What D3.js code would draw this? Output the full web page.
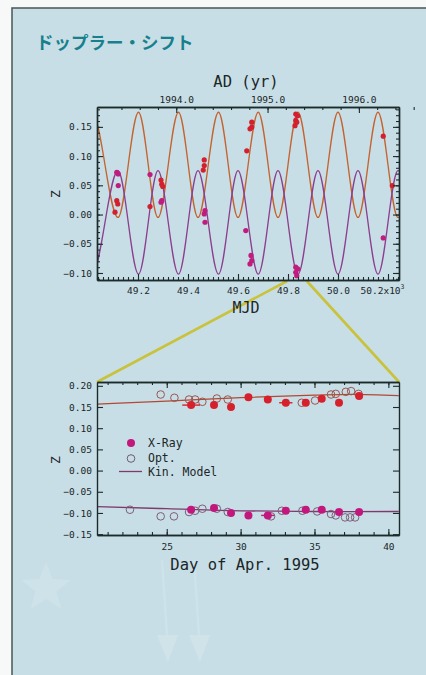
<!DOCTYPE html>
<html>
<head>
<meta charset="UTF-8">
<style>
  body { margin: 0; background: #fff; }
  svg text { font-family: "DejaVu Sans Mono", monospace; fill: #1b2626; }
  .axis path, .axis line { stroke: #1b2a2a; }
  .axis path { stroke-width: 1.4; }
  .axis line { stroke-width: 1.1; }
</style>
<script src="https://cdn.jsdelivr.net/npm/d3@7"></script>
</head>
<body>
<script>
// ---- top panel: model extrema (MJD, z) ----
var modelMJD   = [48936, 49016, 49120, 49202, 49280, 49362, 49440, 49522, 49600, 49681, 49760, 49840, 49920, 50000, 50080, 50160, 50240, 50400];
var modelRedZ  = [-0.005, 0.175, -0.005, 0.175, -0.005, 0.175, -0.005, 0.175, -0.005, 0.175, -0.005, 0.175, -0.005, 0.175, -0.005, 0.175, -0.005, 0.175];
var modelBlueZ = [0.075, -0.102, 0.075, -0.102, 0.075, -0.102, 0.075, -0.102, 0.075, -0.102, 0.075, -0.102, 0.075, -0.102, 0.075, -0.102, 0.075, -0.102];

var topRedMJD = [49115, 49119, 49108, 49248, 49292, 49295, 49299, 49465, 49465, 49461, 49655, 49655, 49648, 49635, 49831, 49831, 49828, 49839, 49835, 50181, 50217];
var topRedZ   = [0.0238, 0.018, 0.004, 0.0136, 0.059, 0.052, 0.048, 0.0935, 0.0837, 0.076, 0.158, 0.1495, 0.1466, 0.109, 0.172, 0.161, 0.152, 0.169, 0.158, 0.134, 0.0495];
var topMagMJD = [49115, 49121, 49121, 49248, 49295, 49292, 49468, 49465, 49468, 49631, 49652, 49655, 49648, 49831, 49831, 49839, 49835, 50181];
var topMagZ   = [0.0724, 0.0695, 0.0495, 0.0683, 0.0238, 0.021, 0.0067, 0.001, -0.0132, -0.0275, -0.070, -0.079, -0.0845, -0.090, -0.0988, -0.093, -0.1046, -0.040];

var mjdTicks  = [49200, 49400, 49600, 49800, 50000, 50200];
var yearTicks = [1994, 1995, 1996];
var topZTicks = [-0.10, -0.05, 0.00, 0.05, 0.10, 0.15];

// ---- bottom panel: April 1995 campaign ----
var xrayDays  = [26.65, 28.2, 29.35, 30.53, 31.84, 33.06, 34.41, 35.49, 36.66, 38.02];
var xrayRedZ  = [0.1545, 0.1545, 0.1498, 0.1733, 0.1677, 0.160, 0.160, 0.1693, 0.160, 0.1757];
var xrayMagZ  = [-0.0924, -0.0884, -0.100, -0.1058, -0.1058, -0.0948, -0.0924, -0.0924, -0.0978, -0.0978];
var xrayRedErr = [0.6, 0, 0, 0, 0, 0.45, 0, 0, 0, 0];
var xrayMagErr = [0, 0, 0, 0, 0.45, 0, 0, 0, 0, 0];

var optRedDays = [24.59, 25.52, 26.51, 26.92, 27.41, 28.39, 29.13, 34.14, 35.04, 36.12, 36.44, 37.12, 37.48, 37.98];
var optRedZ    = [0.1795, 0.1717, 0.1677, 0.1677, 0.1623, 0.170, 0.1677, 0.160, 0.1653, 0.1795, 0.181, 0.1858, 0.1875, 0.181];
var optMagDays = [22.51, 24.59, 25.49, 26.51, 26.92, 27.41, 28.39, 29.13, 32.06, 32.79, 34.18, 35.18, 36.12, 36.44, 37.07, 37.41, 37.75];
var optMagZ    = [-0.0924, -0.108, -0.108, -0.0978, -0.0948, -0.090, -0.090, -0.0978, -0.108, -0.0948, -0.0948, -0.0964, -0.1025, -0.1058, -0.1105, -0.1105, -0.1105];

var kinDays = [20.3, 25, 30, 35, 37.5, 40.7];
var kinRedZ = [0.157, 0.164, 0.172, 0.178, 0.180, 0.177];
var kinMagZ = [-0.085, -0.090, -0.095, -0.0965, -0.0968, -0.0965];

var dayTicks = [25, 30, 35, 40];
var botZTicks = [-0.15, -0.10, -0.05, 0.00, 0.05, 0.10, 0.15, 0.20];

var legendLabels = ["X-Ray", "Opt.", "Kin. Model"];

// ---------------------------------------------------------------
var W = 426, H = 675;
var svg = d3.select("body").append("svg").attr("width", W).attr("height", H);

// page / panel
svg.append("rect").attr("width", W).attr("height", H).attr("fill", "#f7f8f8");
svg.append("rect").attr("x", 12).attr("y", 8).attr("width", W - 12).attr("height", H - 8)
  .attr("fill", "#c8dee6");
svg.append("path").attr("d", "M12," + H + "V8H" + W).attr("fill", "none")
  .attr("stroke", "#4a5557").attr("stroke-width", 1.5);

// faint background decorations
var star = d3.range(10).map(function(i) {
  var r = i % 2 ? 11 : 26, a = -Math.PI / 2 + i * Math.PI / 5;
  return [46 + r * Math.cos(a), 588 + r * Math.sin(a)];
});
svg.append("polygon").attr("points", star.join(" ")).attr("fill", "#d0e4ea").attr("opacity", 0.7);
[168, 200].forEach(function(ax) {
  svg.append("line").attr("x1", ax - 6).attr("y1", 560).attr("x2", ax).attr("y2", 650)
    .attr("stroke", "#cde2e9").attr("stroke-width", 2.5);
  svg.append("path").attr("d", "M" + (ax - 11) + ",635L" + ax + ",662L" + (ax + 10) + ",635Z")
    .attr("fill", "#cfe3e9");
});

svg.append("text").attr("x", 36).attr("y", 49)
  .style("font-family", "'Noto Sans CJK JP', sans-serif").style("font-size", "17.5px")
  .style("font-weight", 700).style("fill", "#17808c")
  .text("ドップラー・シフト");

var tp = {l: 97, r: 399, t: 107, b: 280};
var bp = {l: 97, r: 399, t: 382, b: 535};

var xTop = d3.scaleLinear().domain([49036, 50244]).range([tp.l, tp.r]);
var yTop = d3.scaleLinear().domain([-0.112, 0.184]).range([tp.b, tp.t]);
function mjdToYear(m) { return 1994 + (m - 49353) / 365.25; }
var xYear = d3.scaleLinear().domain([mjdToYear(49036), mjdToYear(50244)]).range([tp.l, tp.r]);

var xBot = d3.scaleLinear().domain([20.28, 40.72]).range([bp.l, bp.r]);
var yBot = d3.scaleLinear().domain([-0.152, 0.209]).range([bp.b, bp.t]);

// zoom connector lines (from the April 1995 window in the top panel)
var apex = [xTop(49837.5) + 3, tp.b - 6];
[[bp.l, bp.t], [bp.r, bp.t]].forEach(function(c) {
  var f = (c[1] - (tp.b + 1)) / (c[1] - apex[1]);
  svg.append("line").attr("x1", c[0]).attr("y1", c[1])
    .attr("x2", c[0] + (apex[0] - c[0]) * f).attr("y2", tp.b + 1)
    .attr("stroke", "#c8c23c").attr("stroke-width", 2.6);
});

function axes(g, x, y, p, o) {
  var fs = o.fs;
  function ax(gen, tr) {
    var a = g.append("g").attr("class", "axis").attr("transform", tr).call(gen);
    a.selectAll("text").style("font-size", fs + "px");
    return a;
  }
  ax(d3.axisBottom(x).tickValues(o.xMinor).tickSize(-3).tickSizeOuter(0).tickFormat(""), "translate(0," + p.b + ")");
  var xb = ax(d3.axisBottom(x).tickValues(o.xMajor).tickSize(-6).tickSizeOuter(0).tickPadding(o.xPad).tickFormat(o.xFmt), "translate(0," + p.b + ")");
  if (o.topScale) {
    ax(d3.axisTop(o.topScale).tickValues(o.topMinor).tickSize(-3).tickSizeOuter(0).tickFormat(""), "translate(0," + p.t + ")");
    ax(d3.axisTop(o.topScale).tickValues(o.topMajor).tickSize(-6).tickSizeOuter(0).tickPadding(4).tickFormat(d3.format(".1f")), "translate(0," + p.t + ")");
  } else {
    ax(d3.axisTop(x).tickValues(o.xMinor).tickSize(-3).tickSizeOuter(0).tickFormat(""), "translate(0," + p.t + ")");
    ax(d3.axisTop(x).tickValues(o.xMajor).tickSize(-6).tickSizeOuter(0).tickFormat(""), "translate(0," + p.t + ")");
  }
  if (o.yMinor) {
    ax(d3.axisLeft(y).tickValues(o.yMinor).tickSize(-3).tickSizeOuter(0).tickFormat(""), "translate(" + p.l + ",0)");
    ax(d3.axisRight(y).tickValues(o.yMinor).tickSize(-3).tickSizeOuter(0).tickFormat(""), "translate(" + p.r + ",0)");
  }
  ax(d3.axisLeft(y).tickValues(o.yMajor).tickSize(-6).tickSizeOuter(0).tickPadding(5).tickFormat(d3.format(".2f")), "translate(" + p.l + ",0)");
  ax(d3.axisRight(y).tickValues(o.yMajor).tickSize(-6).tickSizeOuter(0).tickFormat(""), "translate(" + p.r + ",0)");
  return xb;
}

// ---------------- top panel ----------------
var gT = svg.append("g");
svg.append("clipPath").attr("id", "clipT").append("rect")
  .attr("x", tp.l).attr("y", tp.t).attr("width", tp.r - tp.l).attr("height", tp.b - tp.t);

var topModel = d3.line().x(function(d) { return xTop(d[0]); }).y(function(d) { return yTop(d[1]); })
  .curve(d3.curveMonotoneX);
gT.append("path").datum(d3.zip(modelMJD, modelRedZ)).attr("clip-path", "url(#clipT)")
  .attr("d", topModel).attr("fill", "none").attr("stroke", "#c4632e").attr("stroke-width", 1.3);
gT.append("path").datum(d3.zip(modelMJD, modelBlueZ)).attr("clip-path", "url(#clipT)")
  .attr("d", topModel).attr("fill", "none").attr("stroke", "#8b3f8e").attr("stroke-width", 1.3);

gT.selectAll(".pr").data(d3.zip(topRedMJD, topRedZ)).enter().append("circle")
  .attr("cx", function(d) { return xTop(d[0]); }).attr("cy", function(d) { return yTop(d[1]); })
  .attr("r", 2.6).attr("fill", "#d3202e");
gT.selectAll(".pm").data(d3.zip(topMagMJD, topMagZ)).enter().append("circle")
  .attr("cx", function(d) { return xTop(d[0]); }).attr("cy", function(d) { return yTop(d[1]); })
  .attr("r", 2.6).attr("fill", "#c01c7e");

var xbT = axes(gT, xTop, yTop, tp, {
  fs: 9.5, xPad: 7,
  xMajor: mjdTicks, xMinor: d3.range(49040, 50244, 20),
  xFmt: function(d) { return d3.format(".1f")(d / 1000); },
  topScale: xYear, topMajor: yearTicks, topMinor: d3.range(1993.4, 1996.7, 0.2),
  yMajor: topZTicks, yMinor: d3.range(-0.11, 0.185, 0.01)
});
var last = xbT.selectAll(".tick text").filter(function(d) { return d === 50200; });
last.text("50.2x10").attr("text-anchor", "end").attr("dx", 16);
last.append("tspan").attr("dy", -5).style("font-size", "6.5px").text("3");

svg.append("text").attr("x", 246).attr("y", 87).attr("text-anchor", "middle")
  .style("font-size", "15.5px").text("AD (yr)");
svg.append("text").attr("x", 246).attr("y", 313).attr("text-anchor", "middle")
  .style("font-size", "15px").text("MJD");
svg.append("text").attr("transform", "translate(60,194) rotate(-90)").attr("text-anchor", "middle")
  .style("font-size", "13px").text("Z");

// ---------------- bottom panel ----------------
var gB = svg.append("g");
svg.append("clipPath").attr("id", "clipB").append("rect")
  .attr("x", bp.l).attr("y", bp.t).attr("width", bp.r - bp.l).attr("height", bp.b - bp.t);

var botLine = d3.line().x(function(d) { return xBot(d[0]); }).y(function(d) { return yBot(d[1]); })
  .curve(d3.curveMonotoneX);
gB.append("path").datum(d3.zip(kinDays, kinRedZ)).attr("clip-path", "url(#clipB)")
  .attr("d", botLine).attr("fill", "none").attr("stroke", "#b04a34").attr("stroke-width", 1.3);
gB.append("path").datum(d3.zip(kinDays, kinMagZ)).attr("clip-path", "url(#clipB)")
  .attr("d", botLine).attr("fill", "none").attr("stroke", "#7e3a6c").attr("stroke-width", 1.3);

function openPts(days, zs, col) {
  gB.selectAll(null).data(d3.zip(days, zs)).enter().append("circle")
    .attr("cx", function(d) { return xBot(d[0]); }).attr("cy", function(d) { return yBot(d[1]); })
    .attr("r", 3.8).attr("fill", "none").attr("stroke", col).attr("stroke-width", 1);
}
function filledPts(days, zs, errs, col) {
  var d3d = d3.zip(days, zs, errs);
  gB.selectAll(null).data(d3d.filter(function(d) { return d[2] > 0; })).enter().append("line")
    .attr("x1", function(d) { return xBot(d[0] - d[2]); }).attr("x2", function(d) { return xBot(d[0] + d[2]); })
    .attr("y1", function(d) { return yBot(d[1]); }).attr("y2", function(d) { return yBot(d[1]); })
    .attr("stroke", col).attr("stroke-width", 1.4);
  gB.selectAll(null).data(d3d).enter().append("circle")
    .attr("cx", function(d) { return xBot(d[0]); }).attr("cy", function(d) { return yBot(d[1]); })
    .attr("r", 4).attr("fill", col);
}
openPts(optRedDays, optRedZ, "#9a5650");
openPts(optMagDays, optMagZ, "#7d5e78");
filledPts(xrayDays, xrayRedZ, xrayRedErr, "#d6202c");
filledPts(xrayDays, xrayMagZ, xrayMagErr, "#c2187e");

axes(gB, xBot, yBot, bp, {
  fs: 9.5, xPad: 8,
  xMajor: dayTicks, xMinor: d3.range(21, 41, 1),
  xFmt: d3.format("d"),
  yMajor: botZTicks
});

// legend
var lg = svg.append("g").attr("transform", "translate(" + (bp.l + 34) + "," + (bp.t + 61) + ")");
lg.append("circle").attr("cx", 0).attr("cy", 0).attr("r", 4).attr("fill", "#c2187e");
lg.append("circle").attr("cx", 0).attr("cy", 15.5).attr("r", 3.8).attr("fill", "none")
  .attr("stroke", "#6e5a6e").attr("stroke-width", 1);
lg.append("line").attr("x1", -12).attr("x2", 11).attr("y1", 28.5).attr("y2", 28.5)
  .attr("stroke", "#7e3a6c").attr("stroke-width", 1.3);
lg.selectAll(".lt").data(legendLabels).enter().append("text")
  .attr("x", 17).attr("y", function(d, i) { return 4 + i * 14.5; })
  .style("font-size", "11.5px").text(function(d) { return d; });

svg.append("text").attr("x", 245).attr("y", 570).attr("text-anchor", "middle")
  .style("font-size", "15.5px").text("Day of Apr. 1995");
svg.append("text").attr("transform", "translate(60,460) rotate(-90)").attr("text-anchor", "middle")
  .style("font-size", "13px").text("Z");
</script>
</body>
</html>
